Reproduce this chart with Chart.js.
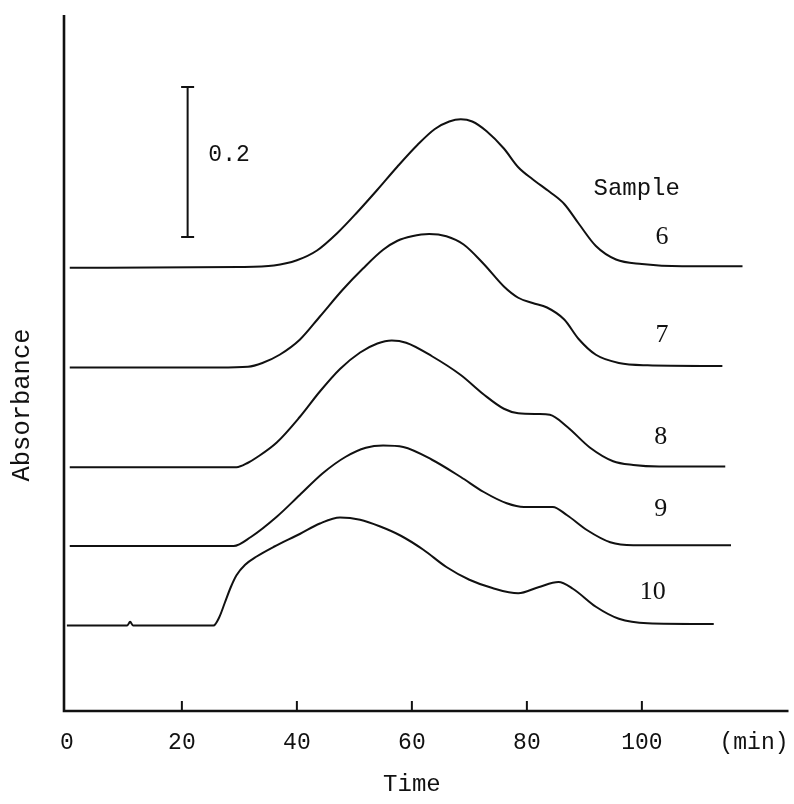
<!DOCTYPE html>
<html>
<head>
<meta charset="utf-8">
<script src="https://cdn.jsdelivr.net/npm/chart.js@4.4.1/dist/chart.umd.min.js"></script>
<style>
  html, body { margin: 0; padding: 0; background: #ffffff; }
  #c { display: block; }
</style>
</head>
<body>
<canvas id="c" width="794" height="804"></canvas>
<script>
// ---- Data (time in min, absorbance above each trace's own baseline) ----
const sampleNames = ['6', '7', '8', '9', '10'];
const baselineOffsets = [0.592, 0.459, 0.325, 0.220, 0.115];

const sample6Time = [0.5, 30, 36, 40, 43.5, 47, 50.5, 54, 57.5, 61, 64, 66.5, 68.5, 70.5, 73, 76, 78.5, 81, 84, 86.5, 89, 92, 95.5, 100, 107, 117.5];
const sample6Abs  = [-0.001, 0, 0.002, 0.009, 0.022, 0.045, 0.073, 0.103, 0.134, 0.163, 0.184, 0.194, 0.197, 0.194, 0.181, 0.158, 0.133, 0.117, 0.100, 0.084, 0.058, 0.028, 0.010, 0.004, 0.001, 0.001];

const sample7Time = [0.5, 26.5, 31.5, 34, 37, 40.5, 44, 48, 51.5, 55, 57.5, 60, 63, 66, 69, 72.5, 76, 78.5, 81, 83.5, 86.5, 89, 92, 96, 101, 114];
const sample7Abs  = [-0.001, -0.001, 0, 0.005, 0.016, 0.036, 0.067, 0.103, 0.131, 0.156, 0.168, 0.174, 0.177, 0.174, 0.163, 0.137, 0.107, 0.092, 0.085, 0.079, 0.063, 0.037, 0.016, 0.005, 0.002, 0.001];

const sample8Time = [0.5, 23, 29.5, 31.5, 33, 36.5, 40.5, 44, 47.5, 51, 54, 56.5, 59, 63.5, 68.5, 72.5, 76, 78.5, 82, 84, 87, 91, 95, 98.5, 103, 114.5];
const sample8Abs  = [0, 0, 0, 0.006, 0.013, 0.033, 0.067, 0.101, 0.131, 0.153, 0.165, 0.169, 0.166, 0.148, 0.123, 0.097, 0.078, 0.072, 0.071, 0.070, 0.054, 0.026, 0.008, 0.003, 0.001, 0.001];

const sample9Time = [0.5, 23, 29, 32, 36.5, 40.5, 44.5, 48.5, 52, 55, 58.5, 63.5, 68.5, 72.5, 76.5, 79.5, 84.5, 87, 90.5, 94.5, 98.5, 115.5];
const sample9Abs  = [0, 0, 0, 0.012, 0.039, 0.068, 0.097, 0.119, 0.131, 0.134, 0.132, 0.115, 0.092, 0.072, 0.057, 0.052, 0.052, 0.041, 0.021, 0.005, 0.001, 0.001];

const sample10Time = [0, 10.5, 11, 11.5, 25.5, 26.5, 27.5, 28.5, 29.5, 31, 33, 36, 40.5, 44, 47.5, 51, 54.5, 58, 62, 66, 70, 74, 78.5, 82, 85.5, 88, 92, 96, 101, 112.5];
const sample10Abs  = [-0.001, -0.001, 0.004, -0.001, -0.001, 0.010, 0.030, 0.050, 0.066, 0.080, 0.091, 0.104, 0.121, 0.135, 0.143, 0.140, 0.131, 0.119, 0.100, 0.077, 0.060, 0.049, 0.042, 0.050, 0.057, 0.048, 0.024, 0.008, 0.002, 0.001];

const xTickValues = [0, 20, 40, 60, 80, 100];
const xTickMarks = [20, 40, 60, 80, 100];
const xUnitLabel = '(min)';
const xTitle = 'Time';
const yTitle = 'Absorbance';
const scaleBarLength = 0.2;
const scaleBarLabel = '0.2';
const sampleHeader = 'Sample';

// ---- Annotation placement (in data space) ----
const annot = {
  unitX: 119.5,
  titleX: 60,
  scaleBarX: 21,
  scaleBarBottom: 0.632,
  scaleBarLabelX: 24.6,
  sampleHeaderX: 99.1, sampleHeaderY: 0.697,
  sampleLabelX: [103.5, 103.5, 103.3, 103.3, 101.9],
  sampleLabelY: [0.632, 0.501, 0.365, 0.269, 0.159]
};

const times = [sample6Time, sample7Time, sample8Time, sample9Time, sample10Time];
const absVals = [sample6Abs, sample7Abs, sample8Abs, sample9Abs, sample10Abs];

const datasets = sampleNames.map((name, i) => ({
  label: 'Sample ' + name,
  data: times[i].map((t, k) => ({ x: t, y: baselineOffsets[i] + absVals[i][k] })),
  borderColor: '#111111',
  borderWidth: 2,
  pointRadius: 0,
  fill: false,
  cubicInterpolationMode: 'monotone'
}));

const MONO = '"Liberation Mono", "DejaVu Sans Mono", monospace';
const SERIF = '"Liberation Serif", "DejaVu Serif", serif';

const decor = {
  id: 'decor',
  afterDraw(chart) {
    const ctx = chart.ctx;
    const xs = chart.scales.x, ys = chart.scales.y;
    const a = chart.chartArea;
    ctx.save();
    ctx.strokeStyle = '#111111';
    ctx.fillStyle = '#111111';
    ctx.lineCap = 'butt';

    // axes
    ctx.lineWidth = 2.6;
    ctx.beginPath();
    ctx.moveTo(a.left, a.top);
    ctx.lineTo(a.left, a.bottom);
    ctx.lineTo(a.right, a.bottom);
    ctx.stroke();

    // tick marks (inward)
    ctx.lineWidth = 2;
    xTickMarks.forEach(v => {
      const px = xs.getPixelForValue(v);
      ctx.beginPath();
      ctx.moveTo(px, a.bottom);
      ctx.lineTo(px, a.bottom - 10);
      ctx.stroke();
    });

    // tick labels
    ctx.font = '23px ' + MONO;
    ctx.textAlign = 'center';
    ctx.textBaseline = 'middle';
    xTickValues.forEach(v => {
      ctx.fillText(String(v), xs.getPixelForValue(v), a.bottom + 32);
    });
    ctx.fillText(xUnitLabel, xs.getPixelForValue(annot.unitX), a.bottom + 32);

    // axis titles
    ctx.font = '24px ' + MONO;
    ctx.fillText(xTitle, xs.getPixelForValue(annot.titleX), a.bottom + 74);
    ctx.save();
    ctx.font = '25.5px ' + MONO;
    ctx.translate(22, (a.top + a.bottom) / 2 + 42);
    ctx.rotate(-Math.PI / 2);
    ctx.fillText(yTitle, 0, 0);
    ctx.restore();

    // scale bar
    const sbx = xs.getPixelForValue(annot.scaleBarX);
    const sy0 = ys.getPixelForValue(annot.scaleBarBottom);
    const sy1 = ys.getPixelForValue(annot.scaleBarBottom + scaleBarLength);
    ctx.lineWidth = 2;
    ctx.beginPath();
    ctx.moveTo(sbx, sy0); ctx.lineTo(sbx, sy1);
    ctx.moveTo(sbx - 6.5, sy0); ctx.lineTo(sbx + 6.5, sy0);
    ctx.moveTo(sbx - 6.5, sy1); ctx.lineTo(sbx + 6.5, sy1);
    ctx.stroke();
    ctx.font = '23px ' + MONO;
    ctx.textAlign = 'left';
    ctx.fillText(scaleBarLabel, xs.getPixelForValue(annot.scaleBarLabelX), (sy0 + sy1) / 2 - 7);

    // sample labels
    ctx.textAlign = 'center';
    ctx.font = '24px ' + MONO;
    ctx.fillText(sampleHeader, xs.getPixelForValue(annot.sampleHeaderX), ys.getPixelForValue(annot.sampleHeaderY));
    ctx.font = '26px ' + SERIF;
    sampleNames.forEach((n, i) => {
      ctx.fillText(n, xs.getPixelForValue(annot.sampleLabelX[i]), ys.getPixelForValue(annot.sampleLabelY[i]));
    });
    ctx.restore();
  }
};

new Chart(document.getElementById('c'), {
  type: 'line',
  data: { datasets },
  options: {
    responsive: false,
    animation: false,
    layout: { padding: { left: 64, right: 5.5, top: 15, bottom: 93 } },
    plugins: { legend: { display: false }, tooltip: { enabled: false } },
    scales: {
      x: { type: 'linear', min: -0.5, max: 125.5, display: false },
      y: { type: 'linear', min: 0, max: 0.928, display: false }
    }
  },
  plugins: [decor]
});
</script>
</body>
</html>
